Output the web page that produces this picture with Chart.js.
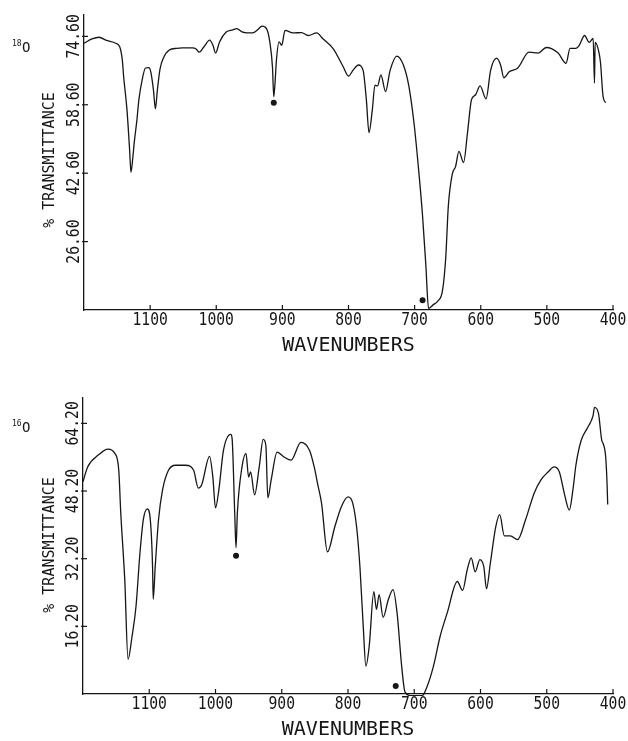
<!DOCTYPE html>
<html>
<head>
<meta charset="utf-8">
<script src="https://cdn.jsdelivr.net/npm/chart.js@4.4.1/dist/chart.umd.min.js"></script>
<style>
  html, body { margin: 0; padding: 0; background: #fff; }
  #wrap { position: relative; width: 628px; height: 741px; }
  canvas { position: absolute; left: 0; }
</style>
</head>
<body>
<div id="wrap">
  <canvas id="irTop" width="628" height="370" style="top:0"></canvas>
  <canvas id="irBottom" width="628" height="371" style="top:370px"></canvas>
</div>
<script>
// ── Data ───────────────────────────────────────────────────────────────────

const X_TICKS = [1100, 1000, 900, 800, 700, 600, 500, 400];

// 18O spectrum
const WN_18 = [
  1200, 1188, 1177, 1167, 1152, 1146, 1142, 1140, 1135, 1131, 1129, 1126, 1124, 1120, 1117, 1112,
  1107, 1102, 1099, 1095, 1092, 1089, 1085, 1080, 1071, 1060, 1051, 1036, 1030, 1026, 1018, 1010,
  1005, 1001, 995, 985, 975, 969, 960, 945, 937, 931, 924, 919, 915, 913, 911, 909,
  905, 901, 896, 884, 871, 861, 848, 839, 823, 808, 800, 793, 785, 778, 773, 769,
  764, 760, 756, 751, 744, 737, 727, 717, 709, 701, 694, 688, 683, 679, 672, 665,
  658, 653, 649, 643, 638, 633, 626, 620, 614, 608, 601, 592, 585, 576, 570, 565,
  557, 544, 527, 513, 501, 483, 471, 465, 456, 451, 443, 436, 430, 428, 427, 422,
  419, 415, 411,
];
const T_18 = [
  73.0, 74.0, 74.4, 73.7, 73.0, 72.2, 69.0, 65.1, 57.4, 48.0, 42.8, 46.5, 49.8, 55.0, 59.8, 64.5,
  67.2, 67.3, 66.3, 62.1, 57.7, 62.1, 67.0, 69.5, 71.4, 71.8, 71.9, 71.9, 71.6, 70.9, 72.3, 73.7,
  72.5, 70.7, 73.3, 75.6, 76.1, 76.4, 75.6, 75.4, 76.2, 77.0, 76.4, 73.3, 67.5, 60.5, 64.0, 69.0,
  73.3, 72.5, 76.0, 75.4, 75.5, 74.8, 75.4, 74.1, 71.7, 67.5, 65.3, 66.7, 67.9, 66.7, 59.8, 52.1,
  57.4, 63.2, 63.0, 65.6, 61.7, 66.7, 70.0, 67.9, 63.2, 54.4, 43.5, 32.6, 21.0, 11.0, 11.8, 12.7,
  15.0, 22.7, 35.0, 42.4, 44.2, 47.7, 45.1, 52.1, 59.8, 60.9, 63.0, 60.0, 66.7, 69.5, 67.9, 64.9,
  66.3, 67.2, 70.9, 70.7, 72.0, 70.7, 68.3, 71.8, 71.8, 72.5, 74.8, 73.2, 74.1, 63.7, 73.2, 71.4,
  68.6, 60.5, 59.1,
];
const DOT_WN_18 = [913, 688];
const DOT_T_18  = [59.1, 12.9];
const Y_TICKS_18 = [26.6, 42.6, 58.6, 74.6];

// 16O spectrum
const WN_16 = [
  1200, 1193, 1177, 1162, 1152, 1146, 1143, 1137, 1132, 1126, 1120, 1114, 1109, 1103, 1098, 1095,
  1094, 1091, 1086, 1080, 1071, 1060, 1045, 1033, 1026, 1021, 1009, 1004, 1000, 995, 988, 977,
  975, 971, 969, 967, 960, 954, 950, 947, 941, 934, 928, 924, 921, 916, 907, 896,
  886, 871, 858, 851, 846, 840, 831, 820, 810, 800, 793, 787, 782, 777, 773, 768,
  761, 757, 753, 747, 739, 732, 726, 719, 714, 705, 688, 681, 671, 661, 650, 635,
  627, 620, 614, 608, 601, 595, 591, 585, 577, 571, 564, 555, 544, 532, 519, 509,
  498, 489, 481, 473, 466, 460, 456, 448, 438, 430, 428, 422, 417, 415, 411, 409,
  408,
];
const T_16 = [
  50.4, 53.9, 56.7, 58.1, 57.1, 53.1, 43.0, 27.3, 8.4, 13.8, 20.9, 33.6, 41.4, 44.0, 40.7, 30.3,
  22.6, 30.3, 41.4, 48.4, 53.1, 54.3, 54.3, 53.1, 48.9, 49.6, 56.4, 51.5, 44.2, 48.4, 57.8, 61.6,
  60.7, 43.0, 34.8, 43.0, 53.9, 57.1, 51.5, 52.7, 47.3, 53.9, 60.4, 59.0, 46.6, 50.8, 57.4, 56.2,
  55.5, 59.7, 57.8, 53.9, 50.0, 45.4, 33.8, 39.7, 44.5, 46.8, 45.4, 39.7, 30.3, 16.2, 6.8, 11.5,
  24.4, 20.2, 23.7, 18.3, 22.6, 24.9, 19.5, 6.8, 0.7, -0.2, -0.2, 1.8, 6.8, 13.8, 19.5, 26.8,
  24.7, 29.6, 32.4, 29.1, 32.0, 30.3, 25.1, 31.3, 39.7, 42.6, 37.6, 37.6, 36.7, 41.4, 47.7, 50.8,
  52.7, 53.9, 52.7, 47.3, 43.7, 49.1, 54.3, 60.2, 63.3, 66.1, 68.0, 66.6, 60.2, 59.5, 56.2, 50.1,
  45.0,
];
const DOT_WN_16 = [969, 728];
const DOT_T_16  = [32.9, 2.1];
const Y_TICKS_16 = [16.2, 32.2, 48.2, 64.2];

// ── Helpers ────────────────────────────────────────────────────────────────

const INK  = '#161616';
const MONO = '"DejaVu Sans Mono", "Liberation Mono", monospace';
const pts  = (xs, ys) => xs.map((x, i) => ({ x, y: ys[i] }));

// plotter-style axis furniture: inward ticks, vertical tick labels, titles
const irAxes = {
  id: 'irAxes',
  afterDraw(chart, args, o) {
    const { ctx, chartArea: a, scales: { x, y } } = chart;
    ctx.save();
    ctx.strokeStyle = INK; ctx.fillStyle = INK; ctx.lineWidth = 1.2;

    // x ticks + labels
    ctx.font = `14px ${MONO}`;
    ctx.textAlign = 'center'; ctx.textBaseline = 'middle';
    X_TICKS.forEach(v => {
      const px = x.getPixelForValue(v);
      ctx.beginPath(); ctx.moveTo(px, a.bottom); ctx.lineTo(px, a.bottom - 5); ctx.stroke();
      ctx.save(); ctx.translate(px, a.bottom + 11); ctx.scale(1.05, 1.2);
      ctx.fillText(String(v), 0, 0); ctx.restore();
    });

    // y ticks + rotated labels
    o.yTicks.forEach(v => {
      const py = y.getPixelForValue(v);
      ctx.beginPath(); ctx.moveTo(a.left - 2, py); ctx.lineTo(a.left + 4, py); ctx.stroke();
      ctx.save(); ctx.translate(a.left - 9, py); ctx.rotate(-Math.PI / 2); ctx.scale(1.05, 1.2);
      ctx.fillText(v.toFixed(2), 0, 0); ctx.restore();
    });

    // axis titles
    ctx.font = `20px ${MONO}`;
    ctx.fillText('WAVENUMBERS', (a.left + a.right) / 2, a.bottom + 36);
    ctx.save(); ctx.font = `15px ${MONO}`;
    ctx.translate(50, o.yTitleAt); ctx.rotate(-Math.PI / 2);
    ctx.fillText('% TRANSMITTANCE', 0, 0); ctx.restore();

    // isotope label
    ctx.textAlign = 'left';
    ctx.font = `8px ${MONO}`;
    ctx.fillText(o.mass, 12, o.isoAt - 4);
    ctx.font = `14px ${MONO}`;
    ctx.fillText('O', 22, o.isoAt);
    ctx.restore();
  },
};

function makeSpectrum(id, xs, ys, dx, dy, yMin, yMax, pad, extra) {
  return new Chart(document.getElementById(id), {
    type: 'line',
    data: {
      datasets: [
        { data: pts(xs, ys), borderColor: INK, borderWidth: 1.3, pointRadius: 0,
          cubicInterpolationMode: 'monotone', clip: 2 },
        { type: 'scatter', data: pts(dx, dy), pointRadius: 3, backgroundColor: INK,
          borderColor: INK, borderWidth: 0, clip: false },
      ],
    },
    options: {
      responsive: false, animation: false,
      layout: { padding: pad },
      plugins: { legend: { display: false }, tooltip: { enabled: false }, irAxes: extra },
      scales: {
        x: { type: 'linear', reverse: true, min: 400, max: 1200,
             ticks: { display: false }, grid: { display: false, drawTicks: false },
             border: { color: INK, width: 1.3 } },
        y: { type: 'linear', min: yMin, max: yMax,
             ticks: { display: false }, grid: { display: false, drawTicks: false },
             border: { color: INK, width: 1.3 } },
      },
    },
    plugins: [irAxes],
  });
}

// ── Charts ─────────────────────────────────────────────────────────────────

makeSpectrum('irTop', WN_18, T_18, DOT_WN_18, DOT_T_18, 10.6, 79.6,
  { left: 84, top: 15, right: 15, bottom: 60 },
  { yTicks: Y_TICKS_18, yTitleAt: 160, mass: '18', isoAt: 48 });

makeSpectrum('irBottom', WN_16, T_16, DOT_WN_16, DOT_T_16, 0.2, 70.2,
  { left: 83, top: 28, right: 15, bottom: 47 },
  { yTicks: Y_TICKS_16, yTitleAt: 175, mass: '16', isoAt: 58 });
</script>
</body>
</html>
